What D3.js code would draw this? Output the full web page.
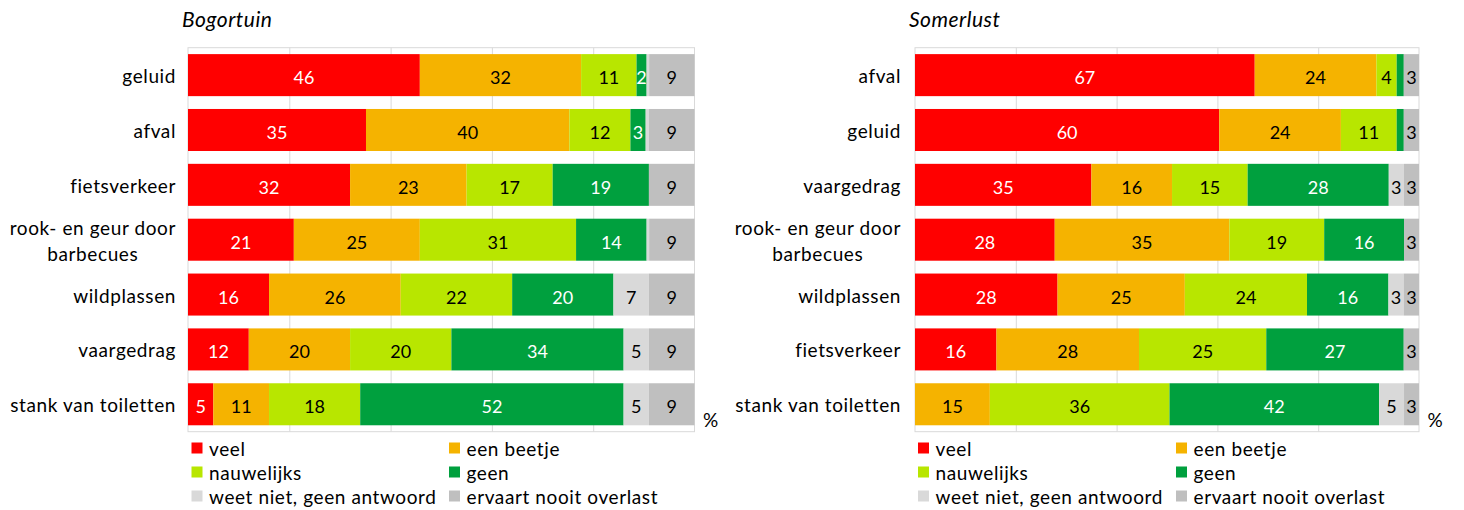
<!DOCTYPE html>
<html>
<head>
<meta charset="utf-8">
<script src="https://cdn.jsdelivr.net/npm/d3@7"></script>
<style>
  body { margin: 0; background: #fff; }
  text { font-family: Lato, "Open Sans", sans-serif; }
</style>
</head>
<body>
<svg id="chart" width="1464" height="510"></svg>
<script>
const seriesNames = ["veel", "een beetje", "nauwelijks", "geen", "weet niet, geen antwoord", "ervaart nooit overlast"];
const seriesKeys = ["veel", "beetje", "nauwelijks", "geen", "weetNiet", "nooit"];
const seriesColors = ["#ff0000", "#f5b300", "#b8e600", "#00a03e", "#d9d9d9", "#bfbfbf"];
const labelColors = ["#fff", "#000", "#000", "#fff", "#000", "#000"];

// Bogortuin
const bogCategories = ["geluid", "afval", "fietsverkeer", "rook- en geur door|barbecues", "wildplassen", "vaargedrag", "stank van toiletten"];
const bogVeel = [46, 35, 32, 21, 16, 12, 5];
const bogBeetje = [32, 40, 23, 25, 26, 20, 11];
const bogNauwelijks = [11, 12, 17, 31, 22, 20, 18];
const bogGeen = [2, 3, 19, 14, 20, 34, 52];
const bogWeetNiet = [0.5, 0.6, 0, 0.5, 7, 5, 5];
const bogNooit = [9, 9, 9, 9, 9, 9, 9];

// Somerlust
const somCategories = ["afval", "geluid", "vaargedrag", "rook- en geur door|barbecues", "wildplassen", "fietsverkeer", "stank van toiletten"];
const somVeel = [67, 60, 35, 28, 28, 16, 0];
const somBeetje = [24, 24, 16, 35, 25, 28, 15];
const somNauwelijks = [4, 11, 15, 19, 24, 25, 36];
const somGeen = [1.4, 1.4, 28, 16, 16, 27, 42];
const somWeetNiet = [0, 0, 3, 0, 3, 0, 5];
const somNooit = [3, 3, 3, 3, 3, 3, 3];

function buildRows(categories, series) {
  return categories.map((c, i) => {
    let row = { category: c };
    seriesKeys.forEach((k, j) => (row[k] = series[j][i]));
    return row;
  });
}

const svg = d3.select("#chart");

function drawPanel(opt) {
  let rows = buildRows(opt.categories, opt.series);
  let g = svg.append("g");

  let x = d3.scaleLinear().domain([0, 1]).range([opt.x0, opt.x1]);
  let y = d3.scaleBand().domain(opt.categories).range([opt.top, opt.bottom]).paddingInner(0.234).paddingOuter(0.117);

  // plot border + gridlines
  g.append("rect")
    .attr("x", opt.x0).attr("y", opt.top)
    .attr("width", opt.x1 - opt.x0).attr("height", opt.bottom - opt.top)
    .attr("fill", "none").attr("stroke", "#d9d9d9");

  g.append("g")
    .attr("transform", "translate(0," + opt.bottom + ")")
    .call(d3.axisBottom(x).tickValues([0.2, 0.4, 0.6, 0.8]).tickSize(-(opt.bottom - opt.top)).tickFormat(""))
    .call((a) => a.select(".domain").remove())
    .selectAll("line").attr("stroke", "#d9d9d9");

  let stack = d3.stack().keys(seriesKeys).offset(d3.stackOffsetExpand);
  let layers = stack(rows);

  let layer = g.selectAll(".layer")
    .data(layers)
    .enter()
    .append("g")
    .attr("class", "layer")
    .attr("fill", (d, i) => seriesColors[i]);

  layer.selectAll("rect")
    .data((d) => d)
    .enter()
    .append("rect")
    .attr("x", (d) => x(d[0]))
    .attr("y", (d) => y(d.data.category))
    .attr("width", (d) => Math.max(0, x(d[1]) - x(d[0])))
    .attr("height", y.bandwidth());

  layer.each(function (L, i) {
    d3.select(this).selectAll("text")
      .data(L.filter((d) => Math.round(d.data[L.key]) >= 2))
      .enter()
      .append("text")
      .attr("x", (d) => (x(d[0]) + x(d[1])) / 2)
      .attr("y", (d) => y(d.data.category) + y.bandwidth() / 2 + 2)
      .attr("text-anchor", "middle")
      .attr("dominant-baseline", "central")
      .attr("fill", labelColors[i])
      .attr("font-size", "18px")
      .text((d) => d3.format("d")(Math.round(d.data[L.key])));
  });

  // category labels
  opt.categories.forEach((c) => {
    let lines = c.split("|");
    let cy = y(c) + y.bandwidth() / 2;
    let t = g.append("text")
      .attr("font-size", "19px")
      .attr("letter-spacing", "0.6px")
      .attr("fill", "#000")
      .attr("dominant-baseline", "central");
    lines.forEach((l, i) => {
      t.append("tspan")
        .attr("y", cy + (i - (lines.length - 1) / 2) * 26)
        .text(l);
    });
    let maxW = d3.max(t.selectAll("tspan").nodes(), (n) => n.getComputedTextLength());
    t.attr("text-anchor", "middle");
    t.selectAll("tspan").attr("x", opt.labelRight - maxW / 2);
  });

  // title
  g.append("text")
    .attr("x", opt.titleX).attr("y", 27)
    .attr("font-size", "21px").attr("font-style", "italic")
    .attr("letter-spacing", "0.5px")
    .text(opt.title);

  // % sign
  g.append("text")
    .attr("x", opt.x1 + 16).attr("y", 419)
    .attr("font-size", "19px").attr("text-anchor", "middle")
    .attr("dominant-baseline", "central")
    .text("%");

  // legend
  let legend = g.selectAll(".legend")
    .data(seriesNames)
    .enter()
    .append("g")
    .attr("class", "legend")
    .attr("transform", (d, i) => "translate(" + opt.legendX[i % 2] + "," + (448 + Math.floor(i / 2) * 24) + ")");
  legend.append("rect")
    .attr("x", 0).attr("y", -5.5)
    .attr("width", 11).attr("height", 11)
    .attr("fill", (d, i) => seriesColors[i]);
  legend.append("text")
    .attr("x", 17.5).attr("y", 0)
    .attr("dominant-baseline", "central")
    .attr("font-size", "19px")
    .attr("letter-spacing", "0.6px")
    .text((d) => d);
}

drawPanel({
  title: "Bogortuin", titleX: 182,
  categories: bogCategories,
  series: [bogVeel, bogBeetje, bogNauwelijks, bogGeen, bogWeetNiet, bogNooit],
  x0: 188, x1: 694.5, top: 47.7, bottom: 431.7, labelRight: 176,
  legendX: [191.5, 449]
});

drawPanel({
  title: "Somerlust", titleX: 909,
  categories: somCategories,
  series: [somVeel, somBeetje, somNauwelijks, somGeen, somWeetNiet, somNooit],
  x0: 915, x1: 1419, top: 47.7, bottom: 431.7, labelRight: 901,
  legendX: [918, 1176]
});
</script>
</body>
</html>
